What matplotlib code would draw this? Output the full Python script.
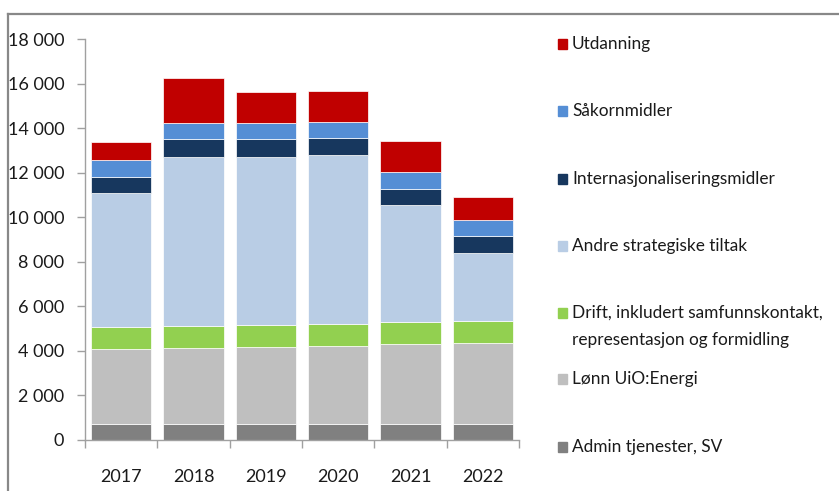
import matplotlib
matplotlib.use("Agg")
import matplotlib.pyplot as plt
from matplotlib.patches import Rectangle
from matplotlib.lines import Line2D
import numpy as np

years = ["2017", "2018", "2019", "2020", "2021", "2022"]

# stacked from bottom to top
admin = [700, 700, 700, 700, 700, 700]
lonn = [3385, 3445, 3490, 3535, 3595, 3640]
drift = [970, 970, 970, 975, 1000, 1000]
andre = [6015, 7600, 7555, 7570, 5250, 3040]
internasjonal = [720, 780, 780, 780, 720, 780]
sakorn = [780, 720, 720, 700, 780, 720]
utdanning = [820, 2020, 1390, 1410, 1390, 1020]

series_labels = [
    "Admin tjenester, SV",
    "Lønn UiO:Energi",
    "Drift, inkludert samfunnskontakt,\nrepresentasjon og formidling",
    "Andre strategiske tiltak",
    "Internasjonaliseringsmidler",
    "Såkornmidler",
    "Utdanning",
]
series_values = [admin, lonn, drift, andre, internasjonal, sakorn, utdanning]
series_colors = ["#808080", "#BFBFBF", "#92D050", "#B9CDE5", "#17375E", "#558ED5", "#C00000"]

yticks = [0, 2000, 4000, 6000, 8000, 10000, 12000, 14000, 16000, 18000]
ytick_labels = ["0", "2 000", "4 000", "6 000", "8 000", "10 000", "12 000", "14 000", "16 000", "18 000"]

FONT = ["Lato", "DejaVu Sans"]
FS = 12.4
TXT = "#1a1a1a"
W, H = 839, 491
fig = plt.figure(figsize=(W / 100, H / 100), dpi=100)
ax = fig.add_axes([85 / W, 1 - 440 / H, (519 - 85) / W, (440 - 39) / H])

x = np.arange(len(years))
bottom = np.zeros(len(years))
for vals, col in zip(series_values, series_colors):
    ax.bar(x, vals, width=0.83, bottom=bottom, color=col, edgecolor="#ffffff",
           linewidth=0.5, zorder=2)
    bottom += np.array(vals)

ax.set_xlim(-0.5, len(years) - 0.5)
ax.set_ylim(0, 18000)
ax.set_yticks(yticks)
ax.set_yticklabels(ytick_labels, fontsize=FS + 0.6, family=FONT, color=TXT)
ax.set_xticks(x)
ax.set_xticklabels(years, fontsize=FS + 0.6, family=FONT, color=TXT)
ax.tick_params(axis="x", which="major", length=0, pad=21)
ax.set_xticks(np.arange(-0.5, len(years)), minor=True)
ax.tick_params(axis="x", which="minor", length=6, color="#A0A0A0", width=1, direction="out")
ax.tick_params(axis="y", length=6, color="#A0A0A0", width=1, direction="out", pad=9)
for s in ["top", "right"]:
    ax.spines[s].set_visible(False)
for s in ["left", "bottom"]:
    ax.spines[s].set_color("#A0A0A0")
    ax.spines[s].set_linewidth(1)

# frame lines (top and left)
fig.add_artist(Line2D([7.5 / W, 1.0], [1 - 14 / H, 1 - 14 / H], color="#888888", lw=1.6,
                      transform=fig.transFigure))
fig.add_artist(Line2D([7.5 / W, 7.5 / W], [0, 1 - 14 / H], color="#888888", lw=1.6,
                      transform=fig.transFigure))

# legend (top to bottom)
leg_y = [447, 379, 313, 246, 179, 111, 44]
line_gap = 27
for lab, col, yy in zip(series_labels, series_colors, leg_y):
    fig.add_artist(Rectangle((558 / W, 1 - (yy + 5) / H), 9 / W, 10 / H, color=col,
                             transform=fig.transFigure))
    for i, line in enumerate(lab.split("\n")):
        fig.text(572 / W, 1 - (yy + i * line_gap) / H, line, fontsize=FS, family=FONT,
                 color=TXT, va="center", ha="left")

fig.savefig("out.png", dpi=100)
